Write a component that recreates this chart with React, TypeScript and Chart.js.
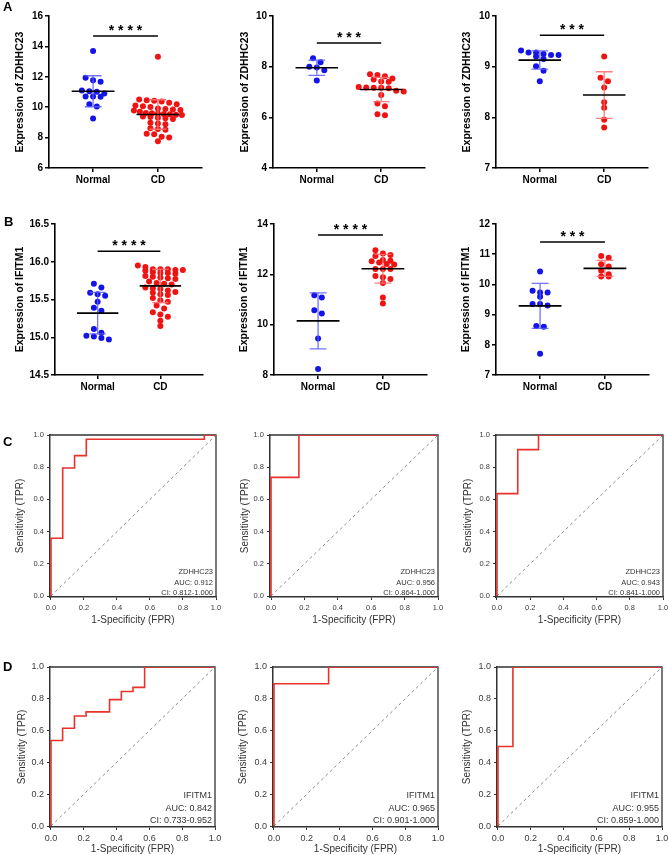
import React, { useEffect, useRef } from 'react';
import { Chart, registerables } from 'chart.js';

Chart.register(...registerables);

const FONT = 'Arial, "Liberation Sans", Helvetica, sans-serif';

// ---------------- data ----------------
const groupLabels = ['Normal', 'CD'];
const expressionTitles = ['Expression of ZDHHC23', 'Expression of IFITM1'];

// Row A: ZDHHC23 expression (three cohorts)
const zdhhcNormal1 = [13.69, 11.93, 11.78, 11.67, 11.10, 11.05, 11.01, 10.90, 10.70, 10.70, 10.68, 10.20, 10.04, 9.25];
const zdhhcCD1 = [13.32, 10.50, 10.46, 10.42, 10.38, 10.29, 10.20, 10.12, 10.07, 10.02, 9.92, 9.88, 9.85, 9.82, 9.78, 9.70, 9.62, 9.60, 9.58, 9.56, 9.53, 9.51, 9.48, 9.38, 9.35, 9.30, 9.27, 9.22, 8.98, 8.92, 8.88, 8.62, 8.56, 8.52, 8.25, 8.22, 8.05, 8.00, 7.76];
const zdhhcNormal2 = [8.33, 8.17, 8.00, 7.97, 7.86, 7.45];
const zdhhcCD2 = [7.70, 7.67, 7.62, 7.53, 7.49, 7.41, 7.40, 7.20, 7.18, 7.17, 7.17, 7.15, 7.05, 7.02, 6.88, 6.55, 6.44, 6.12, 6.08];
const zdhhcNormal3 = [9.32, 9.28, 9.28, 9.25, 9.23, 9.23, 9.20, 9.15, 9.01, 8.92, 8.71];
const zdhhcCD3 = [9.20, 8.78, 8.71, 8.59, 8.30, 8.19, 7.95, 7.80];

// Row B: IFITM1 expression (three cohorts)
const ifitmNormal1 = [15.71, 15.66, 15.59, 15.57, 15.55, 15.47, 15.39, 15.35, 15.11, 15.06, 15.02, 15.01, 14.99, 14.97];
const ifitmCD1 = [15.95, 15.93, 15.90, 15.90, 15.89, 15.89, 15.88, 15.90, 15.86, 15.85, 15.84, 15.85, 15.81, 15.80, 15.79, 15.78, 15.77, 15.74, 15.72, 15.71, 15.70, 15.66, 15.65, 15.64, 15.62, 15.60, 15.59, 15.57, 15.56, 15.52, 15.49, 15.47, 15.42, 15.38, 15.33, 15.30, 15.27, 15.22, 15.15];
const ifitmNormal2 = [11.17, 11.08, 10.57, 10.44, 9.45, 8.24];
const ifitmCD2 = [12.96, 12.83, 12.77, 12.73, 12.57, 12.54, 12.52, 12.47, 12.41, 12.39, 12.21, 12.21, 12.21, 11.93, 11.88, 11.81, 11.66, 11.08, 10.84];
const ifitmNormal3 = [10.43, 9.79, 9.73, 9.73, 9.59, 9.35, 9.35, 9.30, 8.62, 8.60, 7.70];
const ifitmCD3 = [10.94, 10.88, 10.67, 10.59, 10.45, 10.34, 10.26, 10.26];

// mean and SD: [Normal, CD]
const groupMeans = [[11.05, 9.52], [7.96, 7.10], [9.13, 8.44], [15.32, 15.68], [10.15, 12.22], [9.29, 10.53]];
const groupSDs = [[1.02, 0.97], [0.30, 0.48], [0.18, 0.46], [0.275, 0.22], [1.11, 0.57], [0.745, 0.265]];

// y-axis ranges for the six dot plots
const yAxisMin = [6, 4, 7, 14.5, 8, 7];
const yAxisMax = [16, 10, 10, 16.5, 14, 12];
const yAxisStep = [2, 2, 1, 0.5, 2, 1];
const yAxisDecimals = [0, 0, 0, 1, 0, 0];

// significance
const sigLabels = ['****', '***', '***', '****', '****', '***'];
const sigLevels = [14.68, 8.93, 9.62, 16.14, 13.56, 11.4];

// ROC curves (row C: ZDHHC23, row D: IFITM1)
const rocFPR = [
  [0, 0, 0.071, 0.071, 0.143, 0.143, 0.214, 0.214, 0.929, 0.929, 1],
  [0, 0, 0.167, 0.167, 1],
  [0, 0, 0.125, 0.125, 0.25, 0.25, 1],
  [0, 0, 0.071, 0.071, 0.143, 0.143, 0.214, 0.214, 0.357, 0.357, 0.429, 0.429, 0.5, 0.5, 0.571, 0.571, 1],
  [0, 0, 0.333, 0.333, 1],
  [0, 0, 0.091, 0.091, 1],
];
const rocTPR = [
  [0, 0.359, 0.359, 0.795, 0.795, 0.872, 0.872, 0.974, 0.974, 1, 1],
  [0, 0.737, 0.737, 1, 1],
  [0, 0.636, 0.636, 0.909, 0.909, 1, 1],
  [0, 0.538, 0.538, 0.615, 0.615, 0.692, 0.692, 0.718, 0.718, 0.795, 0.795, 0.846, 0.846, 0.872, 0.872, 1, 1],
  [0, 0.895, 0.895, 1, 1],
  [0, 0.5, 0.5, 1, 1],
];
const rocGenes = ['ZDHHC23', 'ZDHHC23', 'ZDHHC23', 'IFITM1', 'IFITM1', 'IFITM1'];
const rocAUC = ['0.912', '0.956', '0.943', '0.842', '0.965', '0.955'];
const rocCI = ['0.812-1.000', '0.864-1.000', '0.841-1.000', '0.733-0.952', '0.901-1.000', '0.859-1.000'];
const rocTicks = [0, 0.2, 0.4, 0.6, 0.8, 1.0];
const rocDiagonal = [0, 1];

// ---------------- layout ----------------
type Geom = { l: number; t: number; r: number; b: number; tx: number; xty: number; top: number; bottom: number };
const scatterGeom: Geom[] = [
  { l: 49, t: 16, r: 202, b: 168, tx: 20, xty: 0, top: 0, bottom: 198 },
  { l: 273, t: 16, r: 425, b: 168, tx: 245, xty: 0, top: 0, bottom: 198 },
  { l: 496, t: 16, r: 648, b: 168, tx: 467, xty: 0, top: 0, bottom: 198 },
  { l: 55, t: 224, r: 203, b: 375, tx: 20, xty: 0, top: 190, bottom: 405 },
  { l: 274, t: 224, r: 427, b: 375, tx: 244, xty: 0, top: 190, bottom: 405 },
  { l: 496, t: 224, r: 649, b: 375, tx: 466, xty: 0, top: 190, bottom: 405 },
];
const rocGeom: Geom[] = [
  { l: 50, t: 435, r: 216, b: 597, tx: 20, xty: 620, top: 423, bottom: 626 },
  { l: 270, t: 435, r: 438, b: 597, tx: 245, xty: 620, top: 423, bottom: 626 },
  { l: 496, t: 435, r: 663, b: 597, tx: 468, xty: 620, top: 423, bottom: 626 },
  { l: 50, t: 667, r: 215, b: 827, tx: 22, xty: 849, top: 655, bottom: 855 },
  { l: 273, t: 667, r: 438, b: 827, tx: 243, xty: 849, top: 655, bottom: 855 },
  { l: 497, t: 667, r: 662, b: 827, tx: 467, xty: 849, top: 655, bottom: 855 },
];
const panelLetters = [
  { text: 'A', x: 3, y: 0 },
  { text: 'B', x: 4, y: 215 },
  { text: 'C', x: 3, y: 435 },
  { text: 'D', x: 3, y: 660 },
];

const X_MIN = 0.32;
const X_MAX = 2.68;
const MEAN_HALF = 0.33;
const CAP_HALF = 0.13;
const BLUE = '#1414e6';
const RED = '#ef1414';
const ROC_RED = '#e8322b';

// Prism-like dot arrangement: rows of nearby values spread horizontally
function rowSpread(values: number[], center: number, xPx: number, yPx: number, rowH: number, step: number, maxHalf: number): number[] {
  const order = values.map((_, i) => i).sort((a, b) => values[b] - values[a]);
  const rows: number[][] = [];
  for (const i of order) {
    const cur = rows[rows.length - 1];
    if (!cur || (values[cur[0]] - values[i]) * yPx > rowH) rows.push([i]);
    else cur.push(i);
  }
  const out: number[] = new Array(values.length);
  for (const row of rows) {
    const n = row.length;
    const sp = n > 1 ? Math.min(step, (2 * maxHalf) / (n - 1)) : step;
    row.forEach((idx, j) => {
      out[idx] = center + ((j - (n - 1) / 2) * sp) / xPx;
    });
  }
  return out;
}

const normals = [zdhhcNormal1, zdhhcNormal2, zdhhcNormal3, ifitmNormal1, ifitmNormal2, ifitmNormal3];
const cds = [zdhhcCD1, zdhhcCD2, zdhhcCD3, ifitmCD1, ifitmCD2, ifitmCD3];

function scatterConfig(i: number, cLeft: number, cRight: number): any {
  const g = scatterGeom[i];
  const yMin = yAxisMin[i];
  const yMax = yAxisMax[i];
  const xPx = (g.r - g.l) / (X_MAX - X_MIN);
  const yPx = (g.b - g.t) / (yMax - yMin);
  const nv = normals[i];
  const cv = cds[i];
  const nx = rowSpread(nv, 1, xPx, yPx, 5, 7.5, 24);
  const cx = rowSpread(cv, 2, xPx, yPx, 5, 7.5, 24);
  const [m0, m1] = groupMeans[i];
  const [s0, s1] = groupSDs[i];
  const meanData = [
    { x: 1 - MEAN_HALF, y: m0 }, { x: 1 + MEAN_HALF, y: m0 }, { x: 1.5, y: null },
    { x: 2 - MEAN_HALF, y: m1 }, { x: 2 + MEAN_HALF, y: m1 },
  ];
  const sdData = (c: number, m: number, s: number) => [
    { x: c, y: m - s }, { x: c, y: m + s }, { x: c, y: null },
    { x: c - CAP_HALF, y: m + s }, { x: c + CAP_HALF, y: m + s }, { x: c, y: null },
    { x: c - CAP_HALF, y: m - s }, { x: c + CAP_HALF, y: m - s },
  ];
  const titleFont = { family: FONT, size: 10.5, weight: 'bold' as const };
  const tickFont = { family: FONT, size: 10, weight: 'bold' as const };
  const sig = sigLabels[i];
  const sigY = sigLevels[i];
  return {
    type: 'scatter',
    data: {
      datasets: [
        { type: 'line', data: meanData, borderColor: '#000', borderWidth: 1.6, pointRadius: 0, spanGaps: false },
        { type: 'line', data: sdData(1, m0, s0), borderColor: 'rgba(90,90,255,0.85)', borderWidth: 1.3, pointRadius: 0, spanGaps: false },
        { type: 'line', data: sdData(2, m1, s1), borderColor: 'rgba(255,110,110,0.9)', borderWidth: 1.3, pointRadius: 0, spanGaps: false },
        { type: 'line', data: [{ x: 1, y: sigY }, { x: 2, y: sigY }], borderColor: '#000', borderWidth: 1.5, pointRadius: 0 },
        { data: nv.map((v, k) => ({ x: nx[k], y: v })), backgroundColor: BLUE, borderColor: BLUE, pointRadius: 3, borderWidth: 0 },
        { data: cv.map((v, k) => ({ x: cx[k], y: v })), backgroundColor: RED, borderColor: RED, pointRadius: 3, borderWidth: 0 },
      ],
    },
    options: {
      responsive: false,
      animation: false,
      events: [],
      layout: { padding: { left: 0, top: g.t - g.top, right: cRight - g.r, bottom: 0 } },
      plugins: { legend: { display: false }, tooltip: { enabled: false } },
      scales: {
        x: {
          type: 'linear',
          min: X_MIN,
          max: X_MAX,
          afterBuildTicks: (sc: any) => { sc.ticks = [{ value: 1 }, { value: 2 }]; },
          afterFit: (sc: any) => { sc.height = g.bottom - g.b; sc.paddingLeft = 0; sc.paddingRight = 0; },
          ticks: {
            callback: (_v: any, idx: number) => groupLabels[idx],
            font: tickFont, color: '#000', padding: 2, maxRotation: 0, autoSkip: false,
          },
          grid: { display: true, drawOnChartArea: false, drawTicks: true, tickLength: 4, color: '#000', lineWidth: 1.5 },
          border: { display: true, color: '#000', width: 1.6 },
        },
        y: {
          type: 'linear',
          min: yMin,
          max: yMax,
          afterFit: (sc: any) => { sc.width = g.l - cLeft; sc.paddingTop = 0; sc.paddingBottom = 0; },
          ticks: {
            stepSize: yAxisStep[i],
            callback: (v: any) => Number(v).toFixed(yAxisDecimals[i]),
            font: tickFont, color: '#000', padding: 2,
          },
          grid: { display: true, drawOnChartArea: false, drawTicks: true, tickLength: 4, color: '#000', lineWidth: 1.5 },
          border: { display: true, color: '#000', width: 1.6 },
          title: {
            display: true,
            text: expressionTitles[i < 3 ? 0 : 1],
            font: titleFont,
            color: '#000',
            padding: { top: g.tx - cLeft - 6.3, bottom: 0 },
          },
        },
      },
    },
    plugins: [
      {
        id: 'sigText',
        afterDatasetsDraw(chart: any) {
          const ctx = chart.ctx;
          const x = chart.scales.x.getPixelForValue(1.5);
          const y = chart.scales.y.getPixelForValue(sigY);
          ctx.save();
          ctx.font = `bold 14px ${FONT}`;
          ctx.fillStyle = '#000';
          ctx.textAlign = 'center';
          ctx.textBaseline = 'alphabetic';
          ctx.fillText(sig.split('').join(' '), x, y - 1.5);
          ctx.restore();
        },
      },
    ],
  };
}

function rocConfig(i: number, cLeft: number, cRight: number): any {
  const g = rocGeom[i];
  const isD = i >= 3;
  const tickFont = { family: FONT, size: isD ? 9 : 7.5 };
  const titleFont = { family: FONT, size: 10 };
  const annFont = isD ? 9 : 7.5;
  const annOffsets = isD ? [31, 18.5, 6.5] : [25, 14.5, 4.5];
  const lines = [rocGenes[i], `AUC: ${rocAUC[i]}`, `CI: ${rocCI[i]}`];
  const axisCommon = {
    type: 'linear',
    min: -0.006,
    max: 1,
    afterBuildTicks: (sc: any) => { sc.ticks = rocTicks.map((v) => ({ value: v })); },
    ticks: { callback: (v: any) => Number(v).toFixed(1), font: tickFont, color: '#3a3a3a', padding: 3, maxRotation: 0, autoSkip: false },
    grid: { display: true, drawOnChartArea: false, drawTicks: true, tickLength: 3, color: '#333', lineWidth: 1 },
    border: { display: true, color: '#333', width: 1.5 },
  };
  return {
    type: 'scatter',
    data: {
      datasets: [
        { type: 'line', data: rocFPR[i].map((x, k) => ({ x, y: rocTPR[i][k] })), borderColor: ROC_RED, borderWidth: 1.6, pointRadius: 0, tension: 0 },
        { type: 'line', data: rocDiagonal.map((v) => ({ x: v, y: v })), borderColor: '#8a8a8a', borderWidth: 1, borderDash: [3, 3], pointRadius: 0 },
      ],
    },
    options: {
      responsive: false,
      animation: false,
      events: [],
      layout: { padding: { left: 0, top: g.t - g.top, right: cRight - g.r, bottom: 0 } },
      plugins: { legend: { display: false }, tooltip: { enabled: false } },
      scales: {
        x: {
          ...axisCommon,
          afterFit: (sc: any) => { sc.height = g.bottom - g.b; sc.paddingLeft = 0; sc.paddingRight = 0; },
          title: { display: true, text: '1-Specificity (FPR)', font: titleFont, color: '#333', padding: { top: 0, bottom: Math.max(0, g.bottom - g.xty - 6) } },
        },
        y: {
          ...axisCommon,
          afterFit: (sc: any) => { sc.width = g.l - cLeft; sc.paddingTop = 0; sc.paddingBottom = 0; },
          title: { display: true, text: 'Sensitivity (TPR)', font: titleFont, color: '#333', padding: { top: g.tx - cLeft - 6, bottom: 0 } },
        },
      },
    },
    plugins: [
      {
        id: 'frame',
        beforeDatasetsDraw(chart: any) {
          const { ctx, chartArea: a } = chart;
          ctx.save();
          ctx.strokeStyle = '#333';
          ctx.lineWidth = 1.3;
          ctx.beginPath();
          ctx.moveTo(a.left, a.top);
          ctx.lineTo(a.right, a.top);
          ctx.lineTo(a.right, a.bottom);
          ctx.stroke();
          ctx.restore();
        },
        afterDatasetsDraw(chart: any) {
          const { ctx, chartArea: a } = chart;
          ctx.save();
          ctx.font = `${annFont}px ${FONT}`;
          ctx.fillStyle = '#333';
          ctx.textAlign = 'right';
          ctx.textBaseline = 'middle';
          lines.forEach((t, k) => ctx.fillText(t, a.right - 3, a.bottom - annOffsets[k]));
          ctx.restore();
        },
      },
    ],
  };
}

function ChartCanvas({ left, top, width, height, make }: { left: number; top: number; width: number; height: number; make: () => any }) {
  const ref = useRef<HTMLCanvasElement>(null);
  useEffect(() => {
    const chart = new Chart(ref.current as HTMLCanvasElement, make());
    return () => chart.destroy();
  }, []);
  return (
    <canvas
      ref={ref}
      width={width}
      height={height}
      style={{ position: 'absolute', left, top, width, height, display: 'block' }}
    />
  );
}

export default function App() {
  return (
    <div style={{ position: 'absolute', left: 0, top: 0, width: 669, height: 855, overflow: 'hidden', background: '#fff' }}>
      {scatterGeom.map((g, i) => {
        const cLeft = g.l - 49;
        const cRight = Math.min(669, g.r + 14);
        return (
          <ChartCanvas
            key={'s' + i}
            left={cLeft}
            top={g.top}
            width={cRight - cLeft}
            height={g.bottom - g.top}
            make={() => scatterConfig(i, cLeft, cRight)}
          />
        );
      })}
      {rocGeom.map((g, i) => {
        const cLeft = g.l - 50;
        const cRight = Math.min(669, g.r + 6);
        return (
          <ChartCanvas
            key={'r' + i}
            left={cLeft}
            top={g.top}
            width={cRight - cLeft}
            height={g.bottom - g.top}
            make={() => rocConfig(i, cLeft, cRight)}
          />
        );
      })}
      {panelLetters.map((p) => (
        <div
          key={p.text}
          style={{ position: 'absolute', left: p.x, top: p.y, font: `bold 13px ${FONT}`, lineHeight: '13px', color: '#000' }}
        >
          {p.text}
        </div>
      ))}
    </div>
  );
}
